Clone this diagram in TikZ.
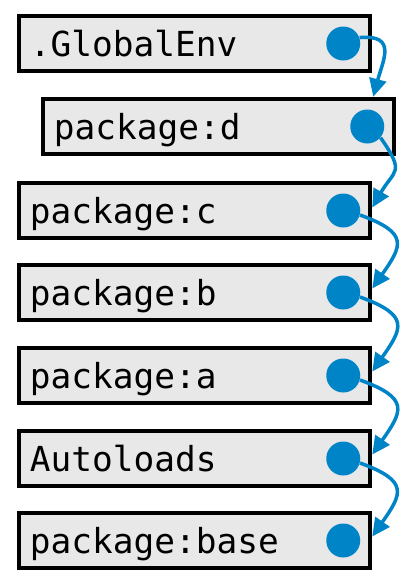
\documentclass[tikz,border=0pt]{standalone}
\usepackage{fontspec}
\setmonofont{DejaVu Sans Mono}
\usetikzlibrary{arrows.meta}
\definecolor{boxgray}{RGB}{232,232,232}
\definecolor{linkblue}{RGB}{0,132,200}

\begin{document}
\begin{tikzpicture}[
    envbox/.style={draw, line width=0.09cm, fill=boxgray, minimum height=1.1cm,
      text width=6.58cm, inner xsep=0.22cm, align=left, text height=0.5cm, text depth=0cm,
      font=\ttfamily\fontsize{19.6}{23}\selectfont},
    dot/.style={circle, fill=linkblue, inner sep=0pt, minimum size=0.68cm},
    link/.style={draw=linkblue, line width=0.07cm, -{Triangle[length=0.36cm,width=0.34cm]}}
  ]
  \useasboundingbox (0,0) rectangle (8.24,-11.74);
  % draw environment boxes
  \node[envbox] (genv) at (3.89,-0.87) {.GlobalEnv};
  \node[envbox] (pkgd) at (4.37,-2.53) {package:d};
  \node[envbox] (pkgc) at (3.89,-4.21) {package:c};
  \node[envbox] (pkgb) at (3.89,-5.85) {package:b};
  \node[envbox] (pkga) at (3.89,-7.51) {package:a};
  \node[envbox] (autoload) at (3.89,-9.17) {Autoloads};
  \node[envbox] (pkgbase) at (3.89,-10.81) {package:base};
  % draw parent pointers
  \foreach \env in {genv,pkgd,pkgc,pkgb,pkga,autoload,pkgbase}
    \node[dot] (\env_dot) at ([xshift=-0.58cm]\env.east) {};
  \draw[link] (genv_dot.20) to[out=5, in=75, looseness=1.6] ([xshift=-0.46cm]pkgd.north east);
  \draw[link] (pkgd_dot.-40) to[out=-55, in=60, looseness=1.6] ([yshift=0.06cm]pkgc.east);
  \draw[link] (pkgc_dot.-15) to[out=-20, in=55, looseness=1.8] ([yshift=0.08cm]pkgb.east);
  \draw[link] (pkgb_dot.-15) to[out=-20, in=55, looseness=1.8] ([yshift=0.08cm]pkga.east);
  \draw[link] (pkga_dot.-15) to[out=-20, in=55, looseness=1.8] ([yshift=0.08cm]autoload.east);
  \draw[link] (autoload_dot.-15) to[out=-20, in=55, looseness=1.8] ([yshift=0.08cm]pkgbase.east);
\end{tikzpicture}
\end{document}
